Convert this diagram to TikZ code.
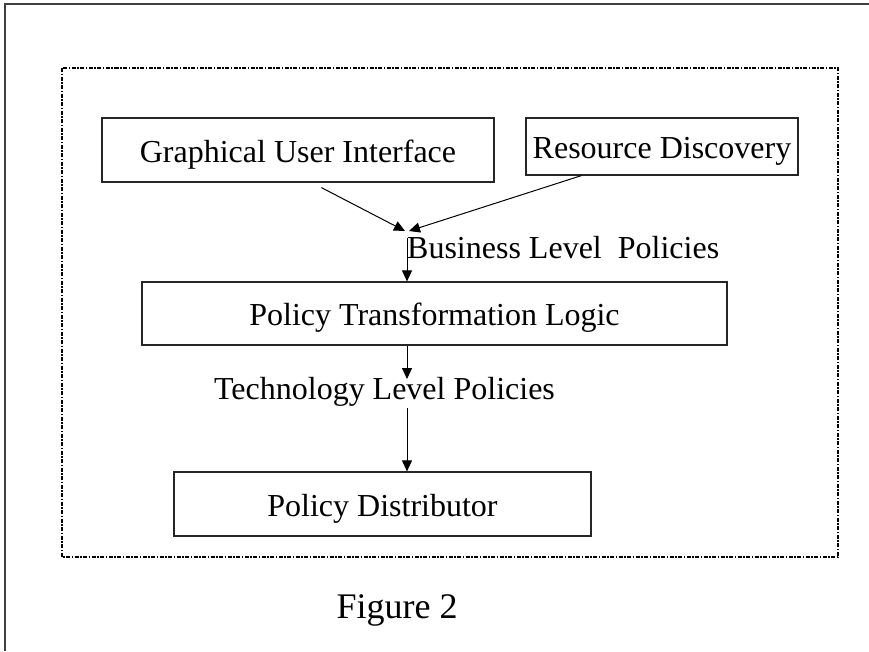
\documentclass[tikz,border=0pt]{standalone}
\usepackage{fontspec}
\setmainfont{Liberation Serif}
\usetikzlibrary{arrows.meta,calc}
\begin{document}
\begin{tikzpicture}[x=1pt,y=-1pt,
  box/.style={draw=black!85,line width=1.2pt,inner sep=0pt,text height=24pt,text depth=0pt,font=\fontsize{32}{38}\selectfont},
  lbl/.style={inner sep=0pt,font=\fontsize{32}{38}\selectfont},
  arr/.style={line width=1pt,-{Triangle[length=11pt,width=10pt]}},
  frame/.style={draw=black!75,line width=1.3pt},
  dotbox/.style={draw=black,line width=1.6pt,dash pattern=on 4pt off 1.5pt on 1.5pt off 1.5pt}]
\useasboundingbox (0,0) rectangle (869,651);
\draw[frame] (5,651) -- (5,4) -- (869,4);
\draw[dotbox] (62,68) rectangle (838,557);
\node[box,minimum width=392pt,minimum height=64pt] (gui) at (298,150) {Graphical User Interface};
\node[box,minimum width=272pt,minimum height=57pt] (rd) at (662,146.5) {Resource Discovery};
\node[box,minimum width=585pt,minimum height=63pt] (ptl) at (434.5,313.5) {Policy Transformation Logic};
\node[box,minimum width=417pt,minimum height=64pt] (pd) at (382.5,504) {Policy Distributor};
\node[lbl,anchor=base west] (blp) at (407,258) {Business Level\ \ Policies};
\node[lbl,anchor=base] (tlp) at (384.5,399) {Technology Level Policies};
\node[lbl,anchor=base] (fig) at (397,618) {\fontsize{36}{42}\selectfont Figure 2};
\coordinate (j1) at (405,231);
\coordinate (j2) at (409,231);
\draw[arr] ($(gui.south west)+(220,5)$) -- (j1);
\draw[arr] ($(rd.south west)+(56,0)$) -- (j2);
\draw[arr] ($(blp.base west)+(0,-20)$) -- (blp.base west |- ptl.north);
\draw[arr] (ptl.south -| blp.base west) -- ($(tlp.base -| blp.base west)+(0,-20)$);
\draw[arr] ($(tlp.base -| blp.base west)+(0,9)$) -- (pd.north -| blp.base west);
\end{tikzpicture}
\end{document}
